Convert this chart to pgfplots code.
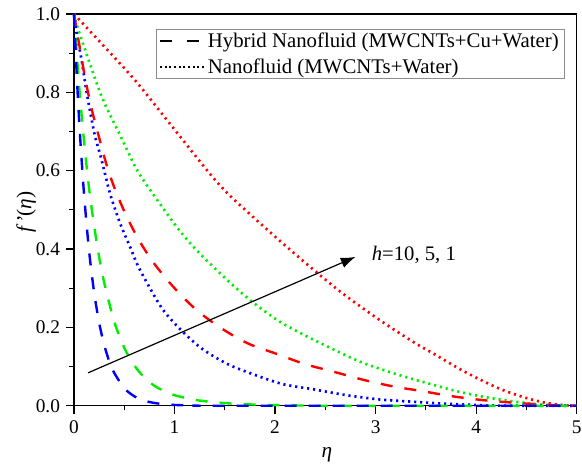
\documentclass[border=0pt]{standalone}
\usepackage{fontspec}
\setmainfont{Liberation Serif}
\usepackage{pgfplots}
\pgfplotsset{compat=1.18}
\usetikzlibrary{arrows.meta}
\definecolor{cr}{RGB}{255,0,0}
\definecolor{cg}{RGB}{0,238,0}
\definecolor{cb}{RGB}{0,0,255}
\tikzset{dotsty/.style={line width=2pt, line cap=butt, dash pattern=on 1.6pt off 2.9pt}}
\begin{document}
\begin{tikzpicture}
\begin{axis}[
  scale only axis,
  width=377pt, height=293.8pt,
  xmin=0, xmax=5, ymin=0, ymax=1,
  axis line style={line width=1.1pt},
  tick align=outside,
  xtick={0,1,2,3,4,5},
  ytick={0,0.2,0.4,0.6,0.8,1.0},
  minor xtick={0.5,1.5,2.5,3.5,4.5},
  minor ytick={0.1,0.3,0.5,0.7,0.9},
  xtick pos=bottom, ytick pos=left,
  major tick length=6pt, minor tick length=3.5pt,
  every tick/.style={black, line width=0.9pt},
  /pgf/number format/assume math mode=true,
  xticklabel={\pgfmathprintnumber[assume math mode=true]{\tick}},
  yticklabel={\pgfmathprintnumber[assume math mode=true,fixed,fixed zerofill,precision=1]{\tick}},
  yticklabel style={xshift=-1pt},
  xticklabel style={yshift=-2pt},
  tick label style={font=\fontsize{14.5}{16}\selectfont},
  every axis y label/.style={at={(axis description cs:-0.095,0.494)}, rotate=90, anchor=center, font=\fontsize{16}{18}\selectfont},
  every axis x label/.style={at={(axis description cs:0.503,-0.126)}, anchor=center, font=\fontsize{16}{18}\selectfont},
  xlabel={\textit{η}},
  ylabel={\textit{f\,'}(\textit{η})},
  clip=false,
  legend style={at={(axis description cs:0.163,0.962)}, anchor=north west, draw=black!45, line width=0.6pt, font=\fontsize{15.6}{18}\selectfont, inner xsep=2pt, inner ysep=0.5pt, row sep=3pt, /tikz/every even column/.append style={column sep=1pt}},
  legend cell align=left,
  legend image code/.code={\draw[#1] (0pt,0pt) -- (33pt,0pt);},
]
\addlegendimage{black, line width=1.7pt, dash pattern=on 9pt off 11pt}
\addlegendentry{Hybrid Nanofluid (MWCNTs+Cu+Water)}
\addlegendimage{black, line width=1.6pt, line cap=butt, dash pattern=on 1.3pt off 2.2pt}
\addlegendentry{Nanofluid (MWCNTs+Water)}

% Nanofluid (dotted)
\addplot[cr, dotsty, smooth, forget plot] coordinates {
(0,1) (0.29,0.92) (0.62,0.827) (1.0,0.705) (1.45,0.563) (1.85,0.466) (2.25,0.376) (2.65,0.291) (3.04,0.219) (3.38,0.162) (3.61,0.128) (3.87,0.089) (4.21,0.046) (4.47,0.022) (4.7,0.007) (4.9,0.001) (5,0)};
\addplot[cg, dotsty, smooth, forget plot] coordinates {
(0,1) (0.03,0.97) (0.18,0.857) (0.29,0.78) (0.46,0.69) (0.62,0.605) (0.76,0.55) (1.02,0.457) (1.22,0.397) (1.49,0.329) (1.75,0.27) (2.02,0.219) (2.22,0.19) (2.45,0.160) (2.85,0.112) (3.24,0.078) (3.58,0.053) (3.81,0.037) (4.07,0.023) (4.34,0.012) (4.6,0.004) (4.8,0.0005) (5,0)};
\addplot[cb, dotsty, smooth, forget plot] coordinates {
(0,1) (0.02,0.96) (0.077,0.88) (0.126,0.80) (0.176,0.73) (0.21,0.687) (0.275,0.627) (0.358,0.542) (0.458,0.466) (0.557,0.406) (0.64,0.355) (0.8,0.28) (0.9,0.24) (1.05,0.197) (1.25,0.15) (1.45,0.117) (1.63,0.095) (2.05,0.057) (2.38,0.042) (2.71,0.027) (3.04,0.016) (3.38,0.010) (3.7,0.005) (4.1,0.001) (4.4,0) (5,0)};

% Hybrid nanofluid (dashed)
\addplot[cr, line width=1.8pt, dash pattern=on 9pt off 9pt, smooth, forget plot] coordinates {
(0,1) (0.06,0.91) (0.11,0.837) (0.176,0.757) (0.24,0.694) (0.325,0.614) (0.41,0.551) (0.524,0.483) (0.657,0.418) (0.806,0.36) (1.0,0.30) (1.22,0.244) (1.47,0.197) (1.73,0.159) (2.02,0.132) (2.30,0.106) (2.58,0.087) (2.88,0.066) (3.18,0.049) (3.46,0.0375) (3.74,0.025) (4.06,0.0145) (4.36,0.008) (4.66,0.003) (4.9,0.0) (5,0)};
\addplot[cg, line width=1.8pt, dash pattern=on 9pt off 9pt, smooth, forget plot] coordinates {
(0,1) (0.05,0.82) (0.1,0.675) (0.15,0.555) (0.2,0.46) (0.25,0.38) (0.3,0.315) (0.4,0.215) (0.5,0.148) (0.6,0.103) (0.7,0.072) (0.8,0.051) (0.9,0.037) (1.0,0.027) (1.2,0.015) (1.4,0.009) (1.6,0.005) (1.8,0.003) (2.0,0.0015) (2.3,0.0005) (2.6,0) (5,0)};
\addplot[cb, line width=1.8pt, dash pattern=on 9pt off 9pt, smooth, forget plot] coordinates {
(0,1) (0.03,0.83) (0.06,0.69) (0.1,0.54) (0.15,0.395) (0.2,0.29) (0.25,0.212) (0.3,0.156) (0.35,0.114) (0.4,0.084) (0.5,0.045) (0.6,0.024) (0.7,0.013) (0.8,0.007) (0.9,0.004) (1.0,0.002) (1.2,0.0006) (1.5,0) (5,0)};

\draw[line width=0.9pt, -{Latex[length=11pt,width=8pt]}] (axis cs:0.14,0.084) -- (axis cs:2.8,0.38);
\node[anchor=west, inner sep=0pt, font=\fontsize{15.5}{17}\selectfont] at (axis cs:2.96,0.385) {\textit{h}=10, 5, 1};
\end{axis}
\pgfresetboundingbox
\path ([shift={(-55.5pt,-52pt)}]current axis.south west) rectangle ([shift={(4pt,10.5pt)}]current axis.north east);
\end{tikzpicture}
\end{document}
